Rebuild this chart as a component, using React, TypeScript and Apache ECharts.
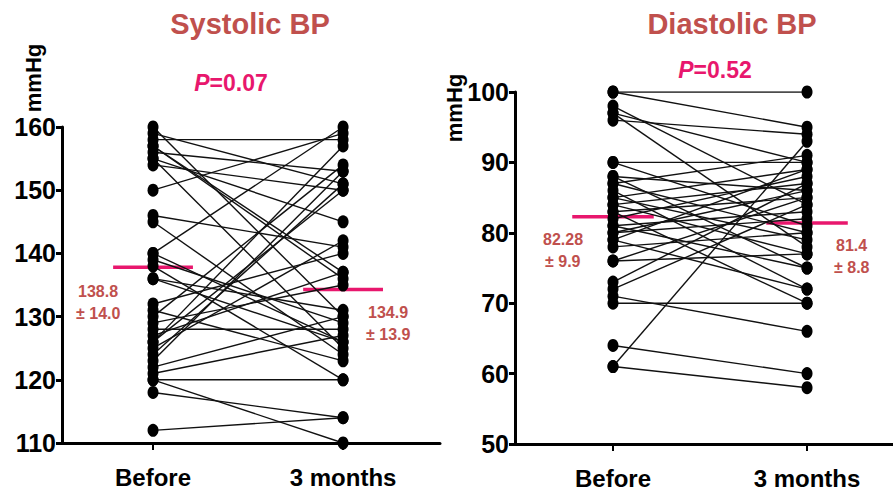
import React, { useEffect, useRef } from "react";
import * as echarts from "echarts";

// Systolic BP paired values (Before, 3 months)
const sysBefore = [160, 159, 158, 157, 156, 155, 155, 154, 150, 146, 145, 140, 140, 139, 138, 136, 132, 131, 130, 129, 128, 127, 126, 125, 124, 123, 122, 121, 120, 120, 118, 112, 136, 157, 126];
const sysAfter = [130, 151, 158, 136, 153, 145, 125, 150, 159, 141, 124, 160, 126, 129, 120, 131, 140, 123, 154, 135, 128, 137, 157, 142, 151, 153, 130, 127, 120, 110, 114, 114, 126, 137, 150];
// Diastolic BP paired values (Before, 3 months)
const diaBefore = [100, 100, 98, 97, 96, 97, 90, 90, 88, 88, 87, 87, 86, 85, 85, 84, 84, 83, 83, 82, 81, 81, 80, 80, 79, 79, 78, 76, 76, 73, 72, 71, 70, 64, 61, 61];
const diaAfter = [100, 95, 84, 90, 94, 78, 90, 81, 75, 86, 80, 91, 72, 89, 79, 87, 77, 85, 70, 88, 83, 75, 86, 82, 89, 72, 80, 85, 77, 87, 84, 66, 70, 60, 58, 93];

const categories = ["Before", "3 months"];
const sysMeanBars = [137.8, 134.3];
const diaMeanBars = [82.28, 81.4];
const sysMeanText = ["138.8", "± 14.0", "134.9", "± 13.9"];
const diaMeanText = ["82.28", "± 9.9", "81.4", "± 8.8"];
const sysTicks = { min: 110, max: 160, interval: 10 };
const diaTicks = { min: 50, max: 100, interval: 10 };

const FONT = "'Liberation Sans', Arial, sans-serif";
const TITLE_COLOR = "#c0504d";
const PINK = "#e8176d";

export default function App() {
  const ref = useRef<HTMLDivElement>(null);
  useEffect(() => {
    if (!ref.current) return;
    const chart = echarts.init(ref.current, null, { renderer: "svg" });

    const xAxisBase = (gridIndex: number, min: number, max: number) => ({
      type: "value",
      gridIndex,
      min,
      max,
      splitLine: { show: false },
      axisLine: { show: true, onZero: false, lineStyle: { color: "#000", width: 3 } },
      axisTick: { show: true, customValues: [0, 1], length: 7, lineStyle: { color: "#000", width: 2 } },
      axisLabel: {
        customValues: [0, 1],
        formatter: (v: number) => categories[Math.round(v)] ?? "",
        color: "#000",
        fontFamily: FONT,
        fontWeight: "bold",
        fontSize: 24,
        margin: 22,
      },
    });
    const yAxisBase = (gridIndex: number, t: { min: number; max: number; interval: number }) => ({
      type: "value",
      gridIndex,
      min: t.min,
      max: t.max,
      interval: t.interval,
      splitLine: { show: false },
      axisLine: { show: true, onZero: false, lineStyle: { color: "#000", width: 3 } },
      axisTick: { show: true, length: 6, lineStyle: { color: "#000", width: 3 } },
      axisLabel: { color: "#000", fontFamily: FONT, fontWeight: "bold", fontSize: 25, margin: 6 },
    });

    const series: any[] = [];
    const addPairs = (b: number[], a: number[], idx: number) => {
      b.forEach((v, i) => {
        series.push({
          type: "line",
          xAxisIndex: idx,
          yAxisIndex: idx,
          data: [[0, v], [1, a[i]]],
          symbol: "circle",
          symbolSize: [11, 13],
          itemStyle: { color: "#000" },
          lineStyle: { color: "#111", width: 1.4 },
          z: 3,
          silent: true,
        });
      });
    };
    addPairs(sysBefore, sysAfter, 0);
    addPairs(diaBefore, diaAfter, 1);
    const addMean = (m: number[], idx: number) => {
      m.forEach((v, i) => {
        series.push({
          type: "line",
          xAxisIndex: idx,
          yAxisIndex: idx,
          data: [[i - 0.21, v], [i + 0.21, v]],
          symbol: "none",
          lineStyle: { color: PINK, width: 3.5 },
          z: 2,
          silent: true,
        });
      });
    };
    addMean(sysMeanBars, 0);
    addMean(diaMeanBars, 1);

    const txt = (x: number, y: number, text: string, size: number, color: string, align = "left", rotation = 0) => ({
      type: "text",
      x,
      y,
      rotation,
      style: {
        text,
        fill: color,
        font: `bold ${size}px ${FONT}`,
        textAlign: align,
        textVerticalAlign: "middle",
      },
    });
    const pText = (x: number, y: number, val: string) => ({
      type: "text",
      x,
      y,
      style: {
        text: `{i|P}{n|=${val}}`,
        textAlign: "center",
        textVerticalAlign: "middle",
        rich: {
          i: { fill: PINK, font: `italic bold 23px ${FONT}` },
          n: { fill: PINK, font: `bold 23px ${FONT}` },
        },
      },
    });

    chart.setOption({
      animation: false,
      grid: [
        { left: 62, right: 453, top: 127, bottom: 47, containLabel: false },
        { left: 515, right: 0, top: 92, bottom: 44, containLabel: false },
      ],
      xAxis: [xAxisBase(0, -0.479, 1.51), xAxisBase(1, -0.505, 1.443)],
      yAxis: [yAxisBase(0, sysTicks), yAxisBase(1, diaTicks)],
      series,
      graphic: [
        txt(250, 24, "Systolic BP", 29, TITLE_COLOR, "center"),
        txt(732, 24, "Diastolic BP", 29, TITLE_COLOR, "center"),
        pText(231, 83, "0.07"),
        pText(715, 70, "0.52"),
        txt(33, 78, "mmHg", 22, "#000", "center", Math.PI / 2),
        txt(454, 108, "mmHg", 22, "#000", "center", Math.PI / 2),
        txt(78, 291, sysMeanText[0], 16, TITLE_COLOR),
        txt(76, 313, sysMeanText[1], 16, TITLE_COLOR),
        txt(368, 312, sysMeanText[2], 16, TITLE_COLOR),
        txt(366, 334, sysMeanText[3], 16, TITLE_COLOR),
        txt(543, 239, diaMeanText[0], 16, TITLE_COLOR),
        txt(545, 261, diaMeanText[1], 16, TITLE_COLOR),
        txt(836, 245, diaMeanText[2], 16, TITLE_COLOR),
        txt(834, 267, diaMeanText[3], 16, TITLE_COLOR),
      ],
    });
    return () => chart.dispose();
  }, []);
  return <div ref={ref} style={{ width: 893, height: 490, position: "absolute", left: 0, top: 0 }} />;
}
